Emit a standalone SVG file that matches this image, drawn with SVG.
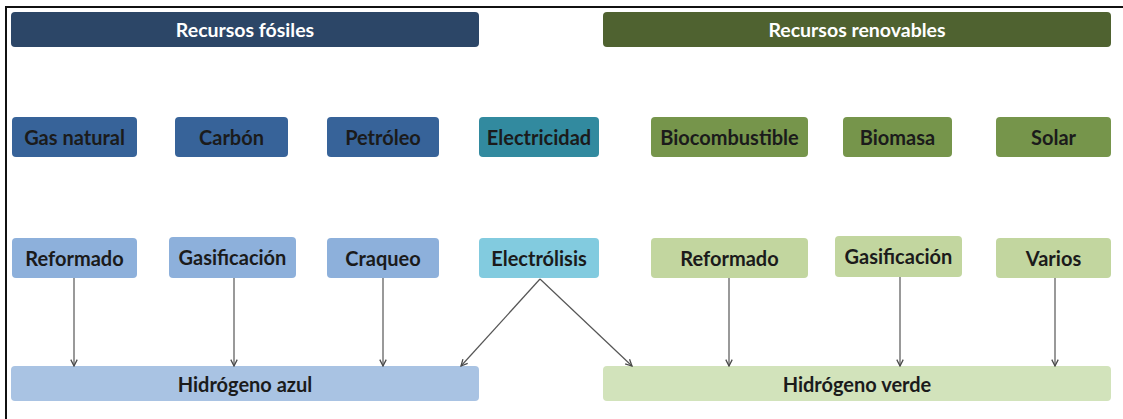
<svg xmlns="http://www.w3.org/2000/svg" width="1123" height="419" viewBox="0 0 1123 419">
<defs>
<marker id="ah" viewBox="0 0 10 10" refX="9" refY="5" markerWidth="8" markerHeight="8" markerUnits="userSpaceOnUse" orient="auto">
<path d="M1,1 L9,5 L1,9" fill="none" stroke="#4a4a4a" stroke-width="1.6"/>
</marker>
</defs>
<style>
text{font-family:Lato,"Open Sans","Liberation Sans",sans-serif;font-weight:bold;text-anchor:middle;dominant-baseline:central}
.hd{fill:#ffffff;font-size:19.5px}
.bx{fill:#1b1b1b;font-size:20px}
.cn line{stroke:#555555;stroke-width:1.2;marker-end:url(#ah)}
</style>
<rect width="1123" height="419" fill="#ffffff"/>
<path d="M6,419 V7 H1123" fill="none" stroke="#111111" stroke-width="2"/>
<g id="fosiles"><rect x="11" y="12" width="468" height="35" rx="4" fill="#2c4667"/><text class="hd" x="245" y="29">Recursos fósiles</text></g>
<g id="renovables"><rect x="603" y="12" width="508" height="35" rx="4" fill="#4f6230"/><text class="hd" x="857" y="29">Recursos renovables</text></g>
<g id="gasnatural"><rect x="12" y="117" width="125" height="40" rx="4" fill="#376399"/><text class="bx" x="74.5" y="137">Gas natural</text></g>
<g id="carbon"><rect x="175" y="117" width="113" height="40" rx="4" fill="#376399"/><text class="bx" x="231.5" y="137">Carbón</text></g>
<g id="petroleo"><rect x="327" y="117" width="112" height="40" rx="4" fill="#376399"/><text class="bx" x="383" y="137">Petróleo</text></g>
<g id="electricidad"><rect x="479" y="117" width="120" height="40" rx="4" fill="#328a9f"/><text class="bx" x="539" y="137">Electricidad</text></g>
<g id="biocombustible"><rect x="651" y="117" width="157" height="40" rx="4" fill="#76954b"/><text class="bx" x="729.5" y="137">Biocombustible</text></g>
<g id="biomasa"><rect x="843" y="117" width="109" height="40" rx="4" fill="#76954b"/><text class="bx" x="897.5" y="137">Biomasa</text></g>
<g id="solar"><rect x="996" y="117" width="115" height="40" rx="4" fill="#76954b"/><text class="bx" x="1053.5" y="137">Solar</text></g>
<g id="reformado1"><rect x="12" y="238" width="125" height="40" rx="4" fill="#8db0db"/><text class="bx" x="74.5" y="258">Reformado</text></g>
<g id="gasificacion1"><rect x="169" y="237" width="127" height="41" rx="4" fill="#8db0db"/><text class="bx" x="232.5" y="257">Gasificación</text></g>
<g id="craqueo"><rect x="327" y="238" width="112" height="40" rx="4" fill="#8db0db"/><text class="bx" x="383" y="258">Craqueo</text></g>
<g id="electrolisis"><rect x="479" y="238" width="120" height="40" rx="4" fill="#82cbdf"/><text class="bx" x="539" y="258">Electrólisis</text></g>
<g id="reformado2"><rect x="651" y="238" width="157" height="40" rx="4" fill="#c2d69f"/><text class="bx" x="729.5" y="258">Reformado</text></g>
<g id="gasificacion2"><rect x="835" y="236" width="127" height="41" rx="4" fill="#c2d69f"/><text class="bx" x="898.5" y="256">Gasificación</text></g>
<g id="varios"><rect x="996" y="238" width="115" height="40" rx="4" fill="#c2d69f"/><text class="bx" x="1053.5" y="258">Varios</text></g>
<g id="azul"><rect x="11" y="366" width="468" height="35" rx="4" fill="#a9c3e3"/><text class="bx" x="245" y="383.5">Hidrógeno azul</text></g>
<g id="verde"><rect x="603" y="366" width="508" height="35" rx="4" fill="#d2e3bb"/><text class="bx" x="857" y="383.5">Hidrógeno verde</text></g>
<g id="connectors" class="cn">
<line x1="74" y1="278" x2="74" y2="366"/>
<line x1="234" y1="278" x2="234" y2="366"/>
<line x1="383" y1="278" x2="383" y2="366"/>
<line x1="540" y1="279" x2="461" y2="366"/>
<line x1="540" y1="279" x2="632" y2="366"/>
<line x1="729" y1="278" x2="729" y2="366"/>
<line x1="900" y1="277" x2="900" y2="366"/>
<line x1="1055" y1="278" x2="1055" y2="366"/>
</g>
</svg>
